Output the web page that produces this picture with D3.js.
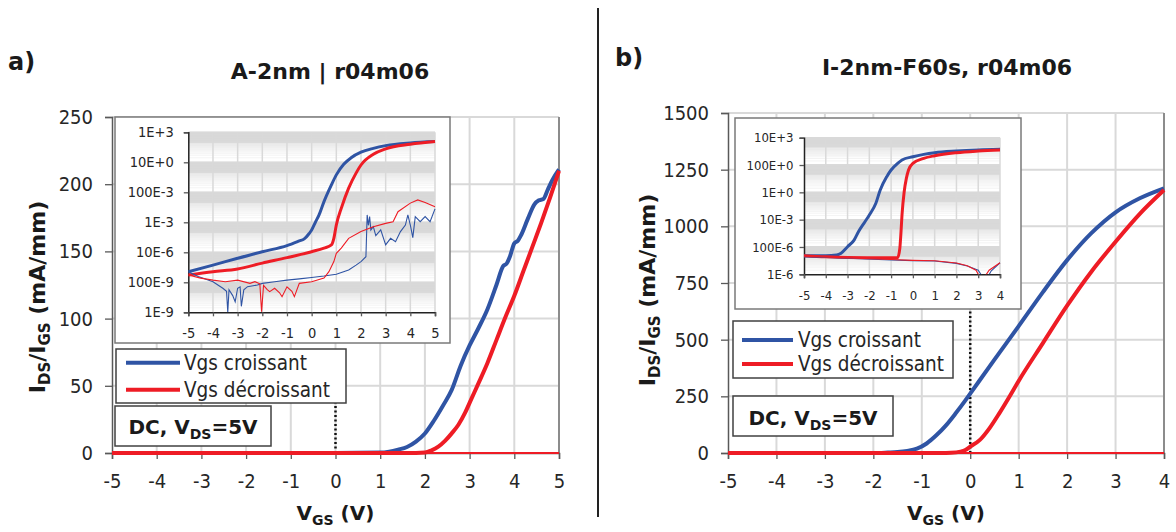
<!DOCTYPE html>
<html><head><meta charset="utf-8">
<script src="https://cdn.jsdelivr.net/npm/d3@7"></script>
<style>
body{margin:0;background:#fff;}
svg{display:block;}
</style></head><body>
<svg id="c" width="1176" height="532"></svg>
<script>
// ---------------- DATA ----------------
const panelLabels = ["a)", "b)"];
const panelTitles = ["A-2nm | r04m06", "I-2nm-F60s, r04m06"];
const seriesNames = ["Vgs croissant", "Vgs décroissant"];

// Panel a) main (linear, mA/mm)
const aXTicks = [-5,-4,-3,-2,-1,0,1,2,3,4,5];
const aYTicks = [0,50,100,150,200,250];
const aUpX = [-5,0,1.0,1.2,1.4,1.6,1.8,2.0,2.2,2.4,2.6,2.8,3.0,3.2,3.4,3.6,3.75,3.83,3.9,4.0,4.08,4.15,4.3,4.45,4.55,4.65,4.75,4.85,5.0];
const aUpY = [0,0,0.3,1,2.5,4.5,8.5,14.5,24,35,47,65,80,93,107,125,139,141,146,156,158,162,174,185,188,189,196,203,211];
const aDownX = [-5,1.8,2.0,2.15,2.3,2.45,2.6,2.75,2.9,3.05,3.2,3.4,3.6,3.8,4.0,4.2,4.4,4.6,4.8,5.0];
const aDownY = [0,0,0.3,2,4.7,9,14.6,21,30,41,52,67,84,101,117,135,153,171,190,210];
const aDotted = [0, 60];

// Panel a) inset (log)
const aInXTicks = [-5,-4,-3,-2,-1,0,1,2,3,4,5];
const aInYTicks = [1e-9,1e-7,1e-5,1e-3,1e-1,1e1,1e3];
const aInUpX = [-5,-4,-3,-2,-1,-0.5,-0.3,-0.1,0,0.15,0.3,0.5,0.8,1.0,1.3,1.6,2,2.5,3,4,5];
const aInUpY = [5.1e-7,1.4e-6,4e-6,1.1e-5,2.8e-5,5.8e-5,7.9e-5,1.8e-4,3.1e-4,1.0e-3,3.1e-3,0.024,0.31,1.45,7.4,20,47,85,129,195,240];
const aInDownX = [-5,-4,-3,-2,-1,0,0.5,0.8,0.9,1.0,1.2,1.5,1.8,2.0,2.5,3,4,5];
const aInDownY = [3.1e-7,5.1e-7,7.8e-7,1.9e-6,4.4e-6,1.1e-5,1.9e-5,3.1e-5,8.5e-5,6.6e-4,8.5e-3,0.19,1.9,6.6,34,78,158,240];
const aInGUpX = [-5,-4.6,-4,-3.6,-3.45,-3.4,-3.35,-3.2,-3.1,-3.0,-2.9,-2.85,-2.75,-2.6,-2.2,-2,-1.5,-1,-0.5,0,0.5,1,1.5,1.8,2.0,2.2,2.25,2.3,2.35,2.4,2.5,2.6,2.8,3.0,3.2,3.4,3.6,3.8,3.9,4.0,4.1,4.2,4.4,4.6,4.8,5.0];
const aInGUpY = [5.1e-7,2.4e-7,1.1e-7,4e-8,2.5e-8,1e-9,3.2e-8,1.3e-8,5e-9,4e-8,5e-8,2.5e-9,3.2e-8,5.1e-8,6.6e-8,8.5e-8,1.1e-7,1.4e-7,1.7e-7,2.1e-7,2.6e-7,3.4e-7,6.6e-7,1.4e-6,2.4e-6,5.1e-6,3.1e-3,6.3e-4,2.4e-3,3.1e-4,5.1e-4,1.3e-4,3.1e-4,3.1e-5,8.5e-5,5.1e-5,2.4e-4,6.6e-4,3.1e-3,6.6e-4,9.5e-5,2.4e-3,1.1e-3,2.4e-3,1.1e-3,7.8e-3];
const aInGDownX = [-5,-4.5,-4,-3.5,-3,-2.5,-2.3,-2.1,-2.03,-1.95,-1.8,-1.7,-1.5,-1.3,-1.2,-1.0,-0.8,-0.7,-0.5,0,0.5,0.7,0.9,1.0,1.2,1.5,2.0,2.5,3.0,3.3,3.5,4.0,4.3,4.6,5.0];
const aInGDownY = [3.1e-7,1.9e-7,1.4e-7,1.1e-7,1.4e-7,8.5e-8,1.1e-7,8e-8,1.1e-9,6.3e-8,3.2e-8,2.4e-8,4e-8,2e-8,1.1e-8,5e-8,2.5e-8,1.1e-8,8.5e-8,1.1e-7,1.9e-7,5.1e-7,2.4e-6,8.5e-6,1.9e-5,8.5e-5,2.4e-4,5.1e-4,8.5e-4,1.1e-3,5.1e-3,0.019,0.031,0.021,0.011];

// Panel b) main (linear, mA/mm)
const bXTicks = [-5,-4,-3,-2,-1,0,1,2,3,4];
const bYTicks = [0,250,500,750,1000,1250,1500];
const bUpX = [-5,-2,-1.7,-1.5,-1.3,-1.1,-0.9,-0.7,-0.5,-0.3,-0.1,0,0.5,1.0,1.5,2.0,2.5,3.0,3.5,4.0];
const bUpY = [0,0,2,4,9,19,42,78,122,175,232,262,412,560,710,851,970,1062,1124,1168];
const bDownX = [-5,-0.6,-0.4,-0.2,-0.1,0,0.2,0.4,0.6,0.8,1.0,1.5,2.0,2.5,3.0,3.5,4.0];
const bDownY = [0,0,1,6,13,28,58,110,175,245,318,485,650,800,932,1055,1160];
const bDotted = [0, 640];

// Panel b) inset (log)
const bInXTicks = [-5,-4,-3,-2,-1,0,1,2,3,4];
const bInYTicks = [1e-6,1e-4,1e-2,1,1e2,1e4];
const bInUpX = [-5,-4,-3.5,-3.3,-3,-2.7,-2.5,-2.2,-2,-1.7,-1.5,-1.2,-1,-0.7,-0.5,0,0.5,1,2,3,4];
const bInUpY = [2.3e-5,2.3e-5,2.6e-5,3.5e-5,1.05e-4,3.2e-4,1.3e-3,7.1e-3,0.022,0.16,1.5,14,43,132,234,407,603,794,1050,1260,1410];
const bInDownX = [-5,-4,-3,-2,-1,-0.7,-0.6,-0.55,-0.5,-0.4,-0.3,-0.2,0,0.5,1,2,3,4];
const bInDownY = [2.3e-5,1.9e-5,1.7e-5,1.66e-5,1.66e-5,1.66e-5,7.9e-5,1e-3,0.022,1.1,10.5,43,132,309,479,794,1047,1259];
const bInGUpX = [-5,-3,-1,0,1,2,2.5,3.0,3.2,3.3,3.4,3.6,4];
const bInGUpY = [1.95e-5,1.5e-5,1.1e-5,1e-5,9.5e-6,6.3e-6,4e-6,2e-6,6.3e-7,1e-7,5e-7,1.8e-6,7e-6];
const bInGDownX = [-5,-3,-1,0,1,2,2.5,2.9,3.1,3.15,3.25,3.5,4];
const bInGDownY = [2.1e-5,1.6e-5,1.2e-5,1.05e-5,9.8e-6,6.8e-6,4.2e-6,2e-6,5e-7,1e-7,5e-7,2e-6,7e-6];

// ---------------- STYLE ----------------
const FONT = '"DejaVu Sans Condensed","DejaVu Sans",sans-serif';
const BFONT = '"DejaVu Sans",sans-serif';
const BLUE = '#2f54a4', RED = '#ee1c25', GRID = '#d9d9d9', AX = '#595959', TXT = '#262626';

const svg = d3.select('#c');
const zip = (xs, ys) => xs.map((x, i) => [x, ys[i]]);

function styleAxis(g, size) {
  g.select('.domain').attr('stroke', AX).attr('stroke-width', 1.5);
  g.selectAll('.tick line').attr('stroke', AX).attr('stroke-width', 1.3);
  g.selectAll('.tick text').attr('fill', TXT).style('font-family', FONT).style('font-size', size + 'px');
}

function drawMain(p) {
  const g = svg.append('g');
  const x = d3.scaleLinear().domain([p.xTicks[0], p.xTicks[p.xTicks.length - 1]]).range([p.left, p.right]);
  const y = d3.scaleLinear().domain([p.yTicks[0], p.yTicks[p.yTicks.length - 1]]).range([p.bottom, p.top]);
  g.append('g').selectAll('line').data(p.xTicks.slice(1)).join('line')
    .attr('x1', d => x(d)).attr('x2', d => x(d)).attr('y1', p.top).attr('y2', p.bottom)
    .attr('stroke', GRID).attr('stroke-width', 2);
  g.append('g').selectAll('line').data(p.yTicks.slice(1)).join('line')
    .attr('x1', p.left).attr('x2', p.right).attr('y1', d => y(d)).attr('y2', d => y(d))
    .attr('stroke', GRID).attr('stroke-width', 2);
  g.append('line').attr('x1', p.right).attr('x2', p.right).attr('y1', p.top).attr('y2', p.bottom)
    .attr('stroke', '#8c8c8c').attr('stroke-width', 2);
  const ya = g.append('g').attr('transform', `translate(${p.left},0)`)
    .call(d3.axisLeft(y).tickValues(p.yTicks).tickSize(7).tickPadding(12).tickFormat(d => String(d)));
  styleAxis(ya, 20);
  const xa = g.append('g').attr('transform', `translate(0,${p.bottom})`)
    .call(d3.axisBottom(x).tickValues(p.xTicks).tickSize(6).tickPadding(15).tickFormat(d => String(d)));
  styleAxis(xa, 20);
  g.append('line').attr('x1', x(p.dotted[0])).attr('x2', x(p.dotted[0]))
    .attr('y1', y(0)).attr('y2', y(p.dotted[1]))
    .attr('stroke', '#111').attr('stroke-width', 2.5).attr('stroke-dasharray', '2,2.5');
  const line = d3.line().x(d => x(d[0])).y(d => y(d[1])).curve(d3.curveMonotoneX);
  [[p.gUp, BLUE], [p.gDown, RED]].forEach(([d, c]) =>
    g.append('path').datum(d).attr('d', line).attr('fill', 'none').attr('stroke', c).attr('stroke-width', 2));
  [[p.up, BLUE], [p.down, RED]].forEach(([d, c]) =>
    g.append('path').datum(d).attr('d', line).attr('fill', 'none').attr('stroke', c)
      .attr('stroke-width', 4).attr('stroke-linejoin', 'round'));
}

function eng(v) {
  const e = Math.round(Math.log10(v));
  const e3 = Math.floor(e / 3) * 3;
  const m = Math.round(Math.pow(10, e - e3));
  return m + 'E' + (e3 >= 0 ? '+' : '-') + Math.abs(e3);
}

function drawInset(p, id) {
  const g = svg.append('g');
  g.append('rect').attr('x', p.box[0]).attr('y', p.box[1]).attr('width', p.box[2] - p.box[0]).attr('height', p.box[3] - p.box[1])
    .attr('fill', '#fff').attr('stroke', '#7a7a7a').attr('stroke-width', 1.5);
  const x = d3.scaleLinear().domain([p.xTicks[0], p.xTicks[p.xTicks.length - 1]]).range([p.left, p.right]);
  const y = d3.scaleLog().domain([p.yTicks[0], p.yTicks[p.yTicks.length - 1]]).range([p.bottom, p.top]);
  // minor gridlines of a base-100 log axis (k*M, k = 2..99)
  const dense = [], light = [];
  for (let i = 0; i < p.yTicks.length - 1; i++) for (let k = 2; k <= 99; k++)
    (k >= 20 ? dense : light).push(p.yTicks[i] * k);
  g.append('g').selectAll('line').data(dense).join('line')
    .attr('x1', p.left).attr('x2', p.right).attr('y1', d => y(d)).attr('y2', d => y(d))
    .attr('stroke', '#d9d9d9').attr('stroke-width', 1);
  g.append('g').selectAll('line').data(light).join('line')
    .attr('x1', p.left).attr('x2', p.right).attr('y1', d => y(d)).attr('y2', d => y(d))
    .attr('stroke', '#e4e4e4').attr('stroke-width', 0.45);
  g.append('g').selectAll('line').data(p.xTicks.slice(1)).join('line')
    .attr('x1', d => x(d)).attr('x2', d => x(d)).attr('y1', p.top).attr('y2', p.bottom)
    .attr('stroke', GRID).attr('stroke-width', 1.5);
  g.append('g').selectAll('line').data(p.yTicks.slice(1)).join('line')
    .attr('x1', p.left).attr('x2', p.right).attr('y1', d => y(d)).attr('y2', d => y(d))
    .attr('stroke', GRID).attr('stroke-width', 1.5);
  const ya = g.append('g').attr('transform', `translate(${p.left},0)`)
    .call(d3.axisLeft(y).tickValues(p.yTicks).tickSize(4.5).tickPadding(p.yPad).tickFormat(eng));
  styleAxis(ya, p.font);
  ya.select('.domain').attr('stroke', '#222');
  const xa = g.append('g').attr('transform', `translate(0,${p.bottom})`)
    .call(d3.axisBottom(x).tickValues(p.xTicks).tickSize(4).tickPadding(p.xPad).tickFormat(d => String(d)));
  styleAxis(xa, p.font);
  xa.select('.domain').attr('stroke', '#222');
  svg.append('clipPath').attr('id', id).append('rect')
    .attr('x', p.left).attr('y', p.top - 2).attr('width', p.right - p.left + 2).attr('height', p.bottom - p.top + 2);
  const cg = g.append('g').attr('clip-path', `url(#${id})`);
  const line = d3.line().x(d => x(d[0])).y(d => y(d[1]));
  [[p.up, BLUE], [p.down, RED]].forEach(([d, c]) =>
    cg.append('path').datum(d).attr('d', line.curve(d3.curveMonotoneX)).attr('fill', 'none').attr('stroke', c)
      .attr('stroke-width', 3).attr('stroke-linejoin', 'round'));
  [[p.gUp, BLUE], [p.gDown, RED]].forEach(([d, c]) =>
    cg.append('path').datum(d).attr('d', line.curve(d3.curveLinear)).attr('fill', 'none').attr('stroke', c).attr('stroke-width', 1.1));
}

function drawLegend(p) {
  const g = svg.append('g');
  g.append('rect').attr('x', p.box[0]).attr('y', p.box[1]).attr('width', p.box[2] - p.box[0]).attr('height', p.box[3] - p.box[1])
    .attr('fill', '#fff').attr('stroke', '#404040').attr('stroke-width', 1.5);
  [BLUE, RED].forEach((c, i) => {
    g.append('line').attr('x1', p.lx[0]).attr('x2', p.lx[1]).attr('y1', p.ly[i]).attr('y2', p.ly[i])
      .attr('stroke', c).attr('stroke-width', 4);
    g.append('text').attr('x', p.tx).attr('y', p.ly[i] + 7).text(seriesNames[i])
      .attr('fill', TXT).style('font-family', FONT).style('font-size', '20.5px');
  });
}

function drawDC(p) {
  const g = svg.append('g');
  g.append('rect').attr('x', p.box[0]).attr('y', p.box[1]).attr('width', p.box[2] - p.box[0]).attr('height', p.box[3] - p.box[1])
    .attr('fill', '#fff').attr('stroke', '#404040').attr('stroke-width', 1.5);
  const t = g.append('text').attr('x', (p.box[0] + p.box[2]) / 2).attr('y', p.base).attr('text-anchor', 'middle')
    .attr('fill', '#1a1a1a').style('font-family', BFONT).style('font-weight', 'bold').style('font-size', '20px');
  t.append('tspan').text('DC, V');
  t.append('tspan').attr('dy', 5).style('font-size', '14px').text('DS');
  t.append('tspan').attr('dy', -5).text('=5V');
}

function axisTitles(p) {
  const yt = svg.append('text').attr('transform', `translate(${p.yx},${p.yy}) rotate(-90)`).attr('text-anchor', 'middle')
    .attr('fill', '#1a1a1a').style('font-family', BFONT).style('font-weight', 'bold').style('font-size', '22px');
  yt.append('tspan').text('I');
  yt.append('tspan').attr('dy', 5).style('font-size', '15px').text('DS');
  yt.append('tspan').attr('dy', -5).text('/I');
  yt.append('tspan').attr('dy', 5).style('font-size', '15px').text('GS');
  yt.append('tspan').attr('dy', -5).text(' (mA/mm)');
  const xt = svg.append('text').attr('x', p.xx).attr('y', p.xy).attr('text-anchor', 'middle')
    .attr('fill', '#1a1a1a').style('font-family', BFONT).style('font-weight', 'bold').style('font-size', '20px');
  xt.append('tspan').text('V');
  xt.append('tspan').attr('dy', 5).style('font-size', '14px').text('GS');
  xt.append('tspan').attr('dy', -5).text(' (V)');
}

// ---------------- PANEL a ----------------
drawMain({left: 112, right: 559, top: 117, bottom: 453, xTicks: aXTicks, yTicks: aYTicks,
  up: zip(aUpX, aUpY), down: zip(aDownX, aDownY),
  gUp: zip(aInGUpX, aInGUpY), gDown: zip(aInGDownX, aInGDownY), dotted: aDotted});
drawInset({box: [115, 117, 450, 343], left: 188.3, right: 435, top: 132.3, bottom: 312.3,
  xTicks: aInXTicks, yTicks: aInYTicks, font: 14.5, yPad: 10, xPad: 11,
  up: zip(aInUpX, aInUpY), down: zip(aInDownX, aInDownY),
  gUp: zip(aInGUpX, aInGUpY), gDown: zip(aInGDownX, aInGDownY)}, 'clipA');
drawLegend({box: [116, 349, 346, 403], lx: [126, 180], ly: [362.7, 389.7], tx: 184});
drawDC({box: [115, 406, 271, 446], base: 434});
axisTitles({yx: 45, yy: 297, xx: 335.5, xy: 520});

// ---------------- PANEL b ----------------
drawMain({left: 728, right: 1164, top: 113, bottom: 453, xTicks: bXTicks, yTicks: bYTicks,
  up: zip(bUpX, bUpY), down: zip(bDownX, bDownY),
  gUp: zip(bInGUpX, bInGUpY), gDown: zip(bInGDownX, bInGDownY), dotted: bDotted});
drawInset({box: [735, 118, 1021, 309], left: 804, right: 1000, top: 137.7, bottom: 274.3,
  xTicks: bInXTicks, yTicks: bInYTicks, font: 13, yPad: 6, xPad: 12,
  up: zip(bInUpX, bInUpY), down: zip(bInDownX, bInDownY),
  gUp: zip(bInGUpX, bInGUpY), gDown: zip(bInGDownX, bInGDownY)}, 'clipB');
drawLegend({box: [733, 321, 953, 378], lx: [742, 793], ly: [340, 364], tx: 798});
drawDC({box: [733, 396, 893, 436], base: 425});
axisTitles({yx: 655, yy: 290, xx: 946, xy: 520});

// ---------------- Titles & separator ----------------
svg.append('line').attr('x1', 598).attr('x2', 598).attr('y1', 8).attr('y2', 517).attr('stroke', '#222').attr('stroke-width', 2);
[[8, 70], [615, 66]].forEach(([x, y], i) =>
  svg.append('text').attr('x', x).attr('y', y).text(panelLabels[i]).attr('fill', '#1a1a1a')
    .style('font-family', BFONT).style('font-weight', 'bold').style('font-size', '24px'));
[[330, 79], [947, 75]].forEach(([x, y], i) =>
  svg.append('text').attr('x', x).attr('y', y).attr('text-anchor', 'middle').text(panelTitles[i]).attr('fill', '#1a1a1a')
    .style('font-family', BFONT).style('font-weight', 'bold').style('font-size', '22px'));
</script>
</body></html>
